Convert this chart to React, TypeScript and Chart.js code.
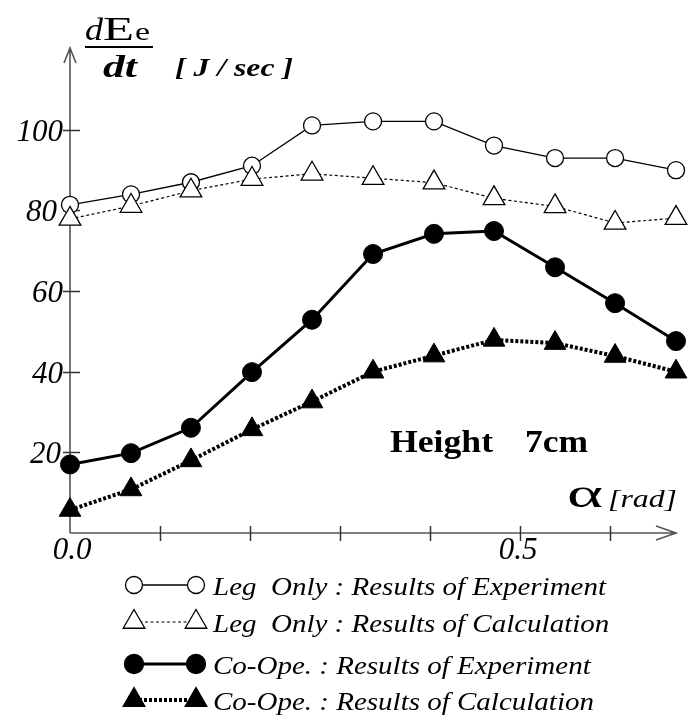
import React, { useEffect, useRef } from 'react';
import { Chart, registerables } from 'chart.js';

Chart.register(...registerables);

// angle alpha [rad]
const xValues = [0, 0.0678, 0.1344, 0.2022, 0.2689, 0.3367, 0.4044, 0.4711, 0.5389, 0.6056, 0.6733];
// dEe/dt [J/sec]
const legOnlyExperiment = [81.4, 84.0, 87.0, 91.1, 101.1, 102.1, 102.1, 96.1, 93.0, 93.0, 90.0];
const legOnlyCalculation = [77.9, 81.1, 84.9, 87.8, 89.1, 88.0, 86.9, 83.0, 81.0, 76.9, 78.1];
const coOpeExperiment = [17.0, 19.8, 26.1, 39.9, 52.9, 69.2, 74.2, 74.9, 65.9, 57.0, 47.6];
const coOpeCalculation = [5.7, 10.8, 18.0, 25.7, 32.6, 40.0, 44.0, 47.9, 47.1, 43.9, 40.0];

const xTickValues = [0.1, 0.2, 0.3, 0.4, 0.5, 0.6];
const xLabelValues = [0, 0.5];
const xLabelTexts = ['0.0', '0.5'];
const yTickValues = [20, 40, 60, 80, 100];
const yTickTexts = ['20', '40', '60', '80', '100'];

const legendTexts = [
  'Leg  Only : Results of Experiment',
  'Leg  Only : Results of Calculation',
  'Co-Ope. : Results of Experiment',
  'Co-Ope. : Results of Calculation',
];

const SERIF = '"Liberation Serif", "Times New Roman", Times, serif';
const AXIS_COLOR = '#555';

function drawText(
  ctx: CanvasRenderingContext2D,
  text: string,
  x: number,
  y: number,
  font: string,
  width: number | null,
  align: 'left' | 'right' | 'center' = 'left'
) {
  ctx.save();
  ctx.font = font;
  ctx.textAlign = 'left';
  ctx.textBaseline = 'alphabetic';
  ctx.fillStyle = '#000';
  const w = ctx.measureText(text).width;
  const s = width ? width / w : 1;
  let x0 = x;
  if (align === 'right') x0 = x - w * s;
  else if (align === 'center') x0 = x - (w * s) / 2;
  ctx.translate(x0, y);
  ctx.scale(s, 1);
  ctx.fillText(text, 0, 0);
  ctx.restore();
}

function marker(ctx: CanvasRenderingContext2D, style: string, x: number, y: number, r: number, fill: string, bw: number) {
  ctx.save();
  ctx.beginPath();
  if (style === 'circle') {
    ctx.arc(x, y, r, 0, Math.PI * 2);
  } else {
    let rad = 0;
    ctx.moveTo(x + Math.sin(rad) * r, y - Math.cos(rad) * r);
    rad += (2 * Math.PI) / 3;
    ctx.lineTo(x + Math.sin(rad) * r, y - Math.cos(rad) * r);
    rad += (2 * Math.PI) / 3;
    ctx.lineTo(x + Math.sin(rad) * r, y - Math.cos(rad) * r);
    ctx.closePath();
  }
  ctx.fillStyle = fill;
  ctx.fill();
  ctx.lineWidth = bw;
  ctx.strokeStyle = '#000';
  ctx.setLineDash([]);
  ctx.stroke();
  ctx.restore();
}

const axesPlugin = {
  id: 'customAxes',
  beforeDatasetsDraw(chart: any) {
    const ctx: CanvasRenderingContext2D = chart.ctx;
    const xs = chart.scales.x;
    const ys = chart.scales.y;
    const x0 = xs.getPixelForValue(0);
    const y0 = ys.getPixelForValue(0);
    const { top, right } = chart.chartArea;
    ctx.save();
    ctx.strokeStyle = AXIS_COLOR;
    ctx.lineWidth = 1.6;
    ctx.beginPath();
    // y axis + arrow
    ctx.moveTo(x0, y0);
    ctx.lineTo(x0, top);
    ctx.moveTo(x0 - 6, top + 15);
    ctx.lineTo(x0, top);
    ctx.lineTo(x0 + 6, top + 15);
    // x axis + arrow
    ctx.moveTo(x0, y0);
    ctx.lineTo(right, y0);
    ctx.moveTo(right - 20, y0 - 7);
    ctx.lineTo(right, y0);
    ctx.lineTo(right - 20, y0 + 7);
    ctx.stroke();
    // ticks
    ctx.strokeStyle = '#333';
    ctx.lineWidth = 1.5;
    ctx.beginPath();
    yTickValues.forEach((v) => {
      const py = Math.round(ys.getPixelForValue(v)) + 0.5;
      ctx.moveTo(x0 - 7, py);
      ctx.lineTo(x0 + 10, py);
    });
    xTickValues.forEach((v) => {
      const px = Math.round(xs.getPixelForValue(v)) + 0.5;
      ctx.moveTo(px, y0 - 7);
      ctx.lineTo(px, y0 + 8);
    });
    ctx.stroke();
    ctx.restore();

    xLabelValues.forEach((v, i) => {
      const px = xs.getPixelForValue(v) + (i === 0 ? 2 : -2);
      drawText(ctx, xLabelTexts[i], px, y0 + 26, `italic 31px ${SERIF}`, null, 'center');
    });
  },
  afterDatasetsDraw(chart: any) {
    const ctx: CanvasRenderingContext2D = chart.ctx;
    const xs = chart.scales.x;
    const ys = chart.scales.y;
    const x0 = xs.getPixelForValue(0);
    yTickValues.forEach((v, i) => {
      const py = ys.getPixelForValue(v);
      const nudge = v === 80 ? -6 : v === 20 ? -2 : 0;
      drawText(ctx, yTickTexts[i], x0 - 7 + nudge, py + 11, `italic 31px ${SERIF}`, null, 'right');
    });
  },
  afterDraw(chart: any) {
    const ctx: CanvasRenderingContext2D = chart.ctx;
    // Y axis title: dEe / dt  [ J / sec ]
    drawText(ctx, 'd', 85, 40, `italic 32px ${SERIF}`, 18);
    drawText(ctx, 'E', 103, 40, `33px ${SERIF}`, 31);
    drawText(ctx, 'e', 135, 40, `26px ${SERIF}`, 15);
    ctx.save();
    ctx.strokeStyle = '#000';
    ctx.lineWidth = 2;
    ctx.beginPath();
    ctx.moveTo(85, 47);
    ctx.lineTo(153, 47);
    ctx.stroke();
    ctx.restore();
    drawText(ctx, 'dt', 103, 77, `bold italic 32px ${SERIF}`, 34);
    drawText(ctx, '[ J / sec ]', 175, 76, `bold italic 25px ${SERIF}`, 118);

    // X axis title
    drawText(ctx, 'α', 567, 507, `40px ${SERIF}`, 36);
    drawText(ctx, '[rad]', 608, 507, `italic 25px ${SERIF}`, 69);

    // annotation
    drawText(ctx, 'Height', 390, 452, `bold 31px ${SERIF}`, 103);
    drawText(ctx, '7cm', 525, 452, `bold 31px ${SERIF}`, 63);

    // legend
    const rows = [585, 622, 664, 700];
    const styles = [
      { pt: 'circle', r: 8.5, fill: '#fff', lw: 1.3, dash: [] as number[] },
      { pt: 'triangle', r: 12.5, fill: '#fff', lw: 1.2, dash: [3, 2.5] },
      { pt: 'circle', r: 9.5, fill: '#000', lw: 3, dash: [] as number[] },
      { pt: 'triangle', r: 12.5, fill: '#000', lw: 4, dash: [3, 2] },
    ];
    ctx.save();
    ctx.font = `italic 25px ${SERIF}`;
    const scale = 393 / ctx.measureText(legendTexts[0]).width;
    ctx.restore();
    rows.forEach((ry, i) => {
      const st = styles[i];
      ctx.save();
      ctx.strokeStyle = '#000';
      ctx.lineWidth = st.lw;
      ctx.setLineDash(st.dash);
      ctx.beginPath();
      ctx.moveTo(134, ry);
      ctx.lineTo(196, ry);
      ctx.stroke();
      ctx.restore();
      marker(ctx, st.pt, 134, ry, st.r, st.fill, 1.3);
      marker(ctx, st.pt, 196, ry, st.r, st.fill, 1.3);
      ctx.save();
      ctx.font = `italic 25px ${SERIF}`;
      const w = ctx.measureText(legendTexts[i]).width;
      ctx.restore();
      drawText(ctx, legendTexts[i], 213, ry + 10, `italic 25px ${SERIF}`, w * scale);
    });
  },
};

function pts(ys: number[]) {
  return xValues.map((x, i) => ({ x, y: ys[i] }));
}

export default function App() {
  const ref = useRef<HTMLCanvasElement | null>(null);
  useEffect(() => {
    if (!ref.current) return;
    const chart = new Chart(ref.current, {
      type: 'line',
      data: {
        datasets: [
          {
            label: legendTexts[1],
            data: pts(legOnlyCalculation),
            borderColor: '#000',
            borderWidth: 1.2,
            borderDash: [3, 2.5],
            pointStyle: 'triangle',
            pointRadius: 12.5,
            pointBackgroundColor: '#fff',
            pointBorderColor: '#000',
            pointBorderWidth: 1.3,
            tension: 0,
            clip: false,
          } as any,
          {
            label: legendTexts[0],
            data: pts(legOnlyExperiment),
            borderColor: '#000',
            borderWidth: 1.3,
            pointStyle: 'circle',
            pointRadius: 8.5,
            pointBackgroundColor: '#fff',
            pointBorderColor: '#000',
            pointBorderWidth: 1.3,
            tension: 0,
            clip: false,
          } as any,
          {
            label: legendTexts[3],
            data: pts(coOpeCalculation),
            borderColor: '#000',
            borderWidth: 4,
            borderDash: [3, 2],
            pointStyle: 'triangle',
            pointRadius: 12.5,
            pointBackgroundColor: '#000',
            pointBorderColor: '#000',
            pointBorderWidth: 1,
            tension: 0,
            clip: false,
          } as any,
          {
            label: legendTexts[2],
            data: pts(coOpeExperiment),
            borderColor: '#000',
            borderWidth: 3,
            pointStyle: 'circle',
            pointRadius: 9.5,
            pointBackgroundColor: '#000',
            pointBorderColor: '#000',
            pointBorderWidth: 1,
            tension: 0,
            clip: false,
          } as any,
        ],
      },
      options: {
        responsive: false,
        animation: false,
        events: [],
        devicePixelRatio: 1,
        layout: { padding: { left: 70, right: 14, top: 48, bottom: 187 } },
        scales: {
          x: { type: 'linear', min: 0, max: 0.6733, display: false },
          y: { type: 'linear', min: 0, max: 120.3, display: false },
        },
        plugins: { legend: { display: false }, tooltip: { enabled: false }, title: { display: false } },
      },
      plugins: [axesPlugin],
    });
    return () => chart.destroy();
  }, []);
  return (
    <div style={{ position: 'fixed', left: 0, top: 0, width: 690, height: 720, background: '#fff' }}>
      <canvas ref={ref} width={690} height={720} style={{ width: 690, height: 720, display: 'block' }} />
    </div>
  );
}
